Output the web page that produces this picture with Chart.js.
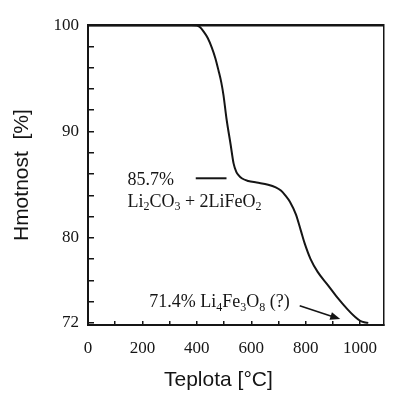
<!DOCTYPE html>
<html>
<head>
<meta charset="utf-8">
<script src="https://cdn.jsdelivr.net/npm/chart.js@4.4.1/dist/chart.umd.min.js"></script>
<style>
    html, body { margin: 0; padding: 0; background: #fff; }
</style>
</head>
<body>
<canvas id="chartTga" width="395" height="394"></canvas>
<script>
// TGA curve: temperature [°C] vs. mass [%]
const teplota = [0, 100, 200, 300, 380, 400, 412, 425, 440, 455, 468, 480, 490, 498, 509, 524, 535, 545, 553, 565, 589, 620, 662, 690, 709, 725, 742, 764, 782, 796, 818, 844, 880, 916, 953, 982, 1000, 1015, 1030];
const hmotnost = [100, 100, 100, 100, 100, 99.97, 99.8, 99.4, 98.8, 97.9, 96.9, 95.7, 94.6, 93.4, 91.2, 88.8, 87.0, 86.2, 85.9, 85.6, 85.35, 85.2, 85.0, 84.75, 84.45, 84.0, 83.4, 82.2, 80.7, 79.5, 78.0, 76.8, 75.6, 74.4, 73.3, 72.55, 72.2, 72.05, 72.0];

// axis ticks
const xTicks = [0, 100, 200, 300, 400, 500, 600, 700, 800, 900, 1000];
const xLabels = [0, 200, 400, 600, 800, 1000];
const yTicks = [72, 74, 76, 78, 80, 82, 84, 86, 88, 90, 92, 94, 96, 98, 100];
const yLabels = [72, 80, 90, 100];

// notes (text + where they sit, in data units)
const note1 = "85.7%";
const note2 = [["Li", 0], ["2", 1], ["CO", 0], ["3", 1], [" + 2LiFeO", 0], ["2", 1]];
const note3 = [["71.4% Li", 0], ["4", 1], ["Fe", 0], ["3", 1], ["O", 0], ["8", 1], [" (?)", 0]];

const serif = "'Liberation Serif', 'DejaVu Serif', serif";
const sans = "'Liberation Sans', Arial, sans-serif";
const ink = "#151515";

drawRich = (ctx, parts, px, py) => {
    let cx = px;
    parts.forEach(([txt, sub]) => {
        ctx.font = (sub ? "12px " : "18px ") + serif;
        ctx.fillText(txt, cx, sub ? py + 5 : py);
        cx += ctx.measureText(txt).width;
    });
};

const notesPlugin = {
    id: "notes",
    afterDatasetsDraw(chart) {
        const { ctx, scales: { x, y } } = chart;
        ctx.save();
        ctx.fillStyle = ink;
        ctx.strokeStyle = ink;
        ctx.textBaseline = "middle";
        ctx.textAlign = "left";

        ctx.font = "18px " + serif;
        ctx.fillText(note1, x.getPixelForValue(145), y.getPixelForValue(85.45));

        // short dash next to 85.7%
        ctx.lineWidth = 2;
        ctx.beginPath();
        ctx.moveTo(x.getPixelForValue(396), y.getPixelForValue(85.6));
        ctx.lineTo(x.getPixelForValue(509), y.getPixelForValue(85.6));
        ctx.stroke();

        drawRich(ctx, note2, x.getPixelForValue(145), y.getPixelForValue(83.36));
        drawRich(ctx, note3, x.getPixelForValue(225), y.getPixelForValue(73.9));

        // arrow
        const x0 = x.getPixelForValue(778), y0 = y.getPixelForValue(73.6);
        const x1 = x.getPixelForValue(927), y1 = y.getPixelForValue(72.36);
        const a = Math.atan2(y1 - y0, x1 - x0);
        ctx.lineWidth = 1.6;
        ctx.beginPath();
        ctx.moveTo(x0, y0);
        ctx.lineTo(x1 - 6 * Math.cos(a), y1 - 6 * Math.sin(a));
        ctx.stroke();
        ctx.beginPath();
        ctx.moveTo(x1, y1);
        ctx.lineTo(x1 - 10 * Math.cos(a) + 4 * Math.sin(a), y1 - 10 * Math.sin(a) - 4 * Math.cos(a));
        ctx.lineTo(x1 - 10 * Math.cos(a) - 4 * Math.sin(a), y1 - 10 * Math.sin(a) + 4 * Math.cos(a));
        ctx.closePath();
        ctx.fill();
        ctx.restore();
    },
};

const config = {
    type: "line",
    data: {
        datasets: [
            {
                label: "TGA",
                data: teplota.map((t, i) => ({ x: t, y: hmotnost[i] })),
                borderColor: ink,
                borderWidth: 2,
                pointRadius: 0,
                fill: false,
                cubicInterpolationMode: "monotone",
            },
        ],
    },
    options: {
        responsive: false,
        animation: false,
        layout: { padding: { top: 15, right: 8, left: 0, bottom: 0 } },
        plugins: {
            legend: { display: false },
            tooltip: { enabled: false },
        },
        scales: {
            x: {
                type: "linear",
                position: "bottom",
                min: 0,
                max: 1087,
                afterBuildTicks: (scale) => { scale.ticks = xTicks.map((v) => ({ value: v })); },
                afterFit: (scale) => { scale.height = 69; },
                ticks: {
                    autoSkip: false,
                    maxRotation: 0,
                    padding: 17,
                    color: ink,
                    font: { family: serif, size: 17 },
                    callback: (v) => (xLabels.includes(v) ? String(v) : ""),
                },
                grid: { drawOnChartArea: false, tickLength: -4, color: ink, lineWidth: 1.5 },
                border: { color: ink, width: 2 },
                title: {
                    display: true,
                    // trailing spaces nudge the centred title a bit to the left, as in the original
                    text: "Teplota [°C]      ",
                    color: ink,
                    font: { family: sans, size: 21 },
                    padding: { top: 0, bottom: 1 },
                },
            },
            y: {
                type: "linear",
                position: "left",
                min: 71.8,
                max: 100,
                afterBuildTicks: (scale) => { scale.ticks = yTicks.map((v) => ({ value: v })); },
                afterFit: (scale) => { scale.width = 88; },
                ticks: {
                    autoSkip: false,
                    padding: 15,
                    color: ink,
                    font: { family: serif, size: 17 },
                    callback: (v) => (yLabels.includes(v) ? String(v) : ""),
                },
                grid: { drawOnChartArea: false, tickLength: -6, color: ink, lineWidth: 1.5 },
                border: { color: ink, width: 2 },
                title: {
                    display: true,
                    text: "Hmotnost  [%]",
                    color: ink,
                    font: { family: sans, size: 21 },
                    padding: { top: 10, bottom: 0 },
                },
            },
            xTop: {
                type: "linear",
                position: "top",
                min: 0,
                max: 1087,
                ticks: { display: false },
                grid: { display: false, drawTicks: false },
                border: { color: ink, width: 2.5 },
            },
            yRight: {
                type: "linear",
                position: "right",
                min: 71.8,
                max: 100,
                ticks: { display: false },
                grid: { display: false, drawTicks: false },
                border: { color: ink, width: 1.5 },
            },
        },
    },
    plugins: [notesPlugin],
};

let lineGraph = new Chart(document.getElementById("chartTga"), config);
</script>
</body>
</html>
